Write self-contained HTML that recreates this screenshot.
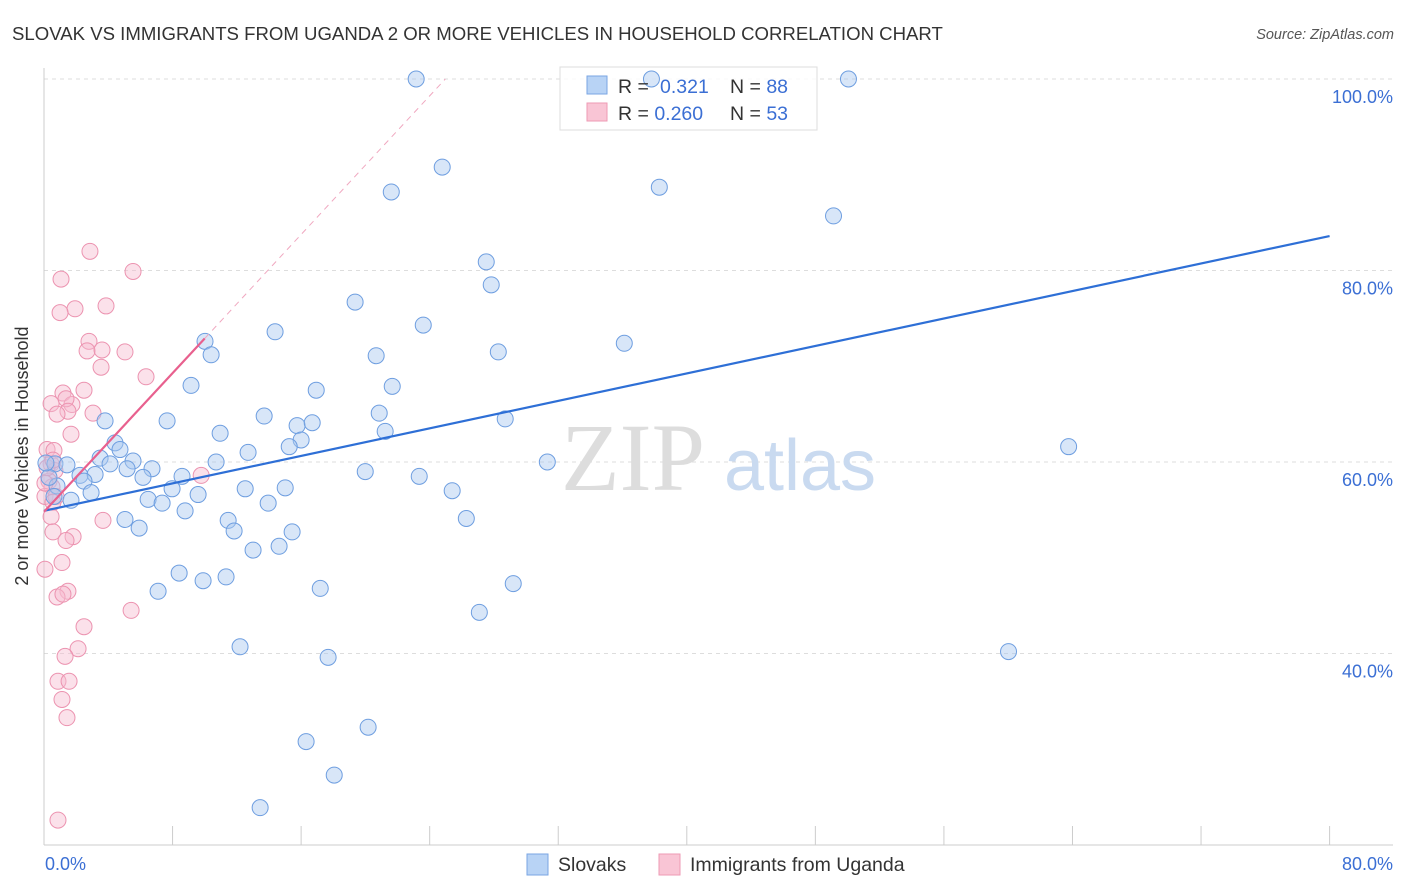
<!DOCTYPE html>
<html><head><meta charset="utf-8"><style>
body{margin:0;background:#fff;font-family:"Liberation Sans",sans-serif;}
svg{display:block}
</style></head><body>
<svg id="chart" width="1406" height="892" font-family="Liberation Sans, sans-serif">
<text x="12" y="40" font-size="18.6" fill="#333">SLOVAK VS IMMIGRANTS FROM UGANDA 2 OR MORE VEHICLES IN HOUSEHOLD CORRELATION CHART</text>
<text x="1394" y="39" font-size="14.5" fill="#555" font-style="italic" text-anchor="end">Source: ZipAtlas.com</text>
<g id="grid"></g>
<g>
<text x="633" y="490" font-size="96" font-family="Liberation Serif, serif" fill="#ddd" text-anchor="middle">ZIP</text>
<text x="800" y="490" font-size="72" fill="#c9daf0" text-anchor="middle">atlas</text>
</g>
<line x1="44" y1="68" x2="44" y2="845" stroke="#ccc"/>
<line x1="44" y1="845" x2="1393" y2="845" stroke="#ccc"/>
<g id="ticks"></g>
<text x="28" y="456" font-size="18" fill="#333" text-anchor="middle" transform="rotate(-90 28 456)">2 or more Vehicles in Household</text>
<text x="45" y="870" font-size="18" fill="#3b6fd4">0.0%</text>
<text x="1393" y="870" font-size="18" fill="#3b6fd4" text-anchor="end">80.0%</text>
<g id="ylabels"></g>
<rect x="560" y="67" width="257" height="63" fill="#fff" fill-opacity="0.8" stroke="#ddd"/>
<g id="pink"></g>
<g id="blue"></g>
<g id="lines"></g>
<g>
<rect x="587" y="76" width="20" height="18" fill="#b8d3f5" stroke="#7aa6e3"/>
<rect x="587" y="103" width="20" height="18" fill="#f9c5d5" stroke="#ee9ab4"/>
<text x="618" y="93" font-size="19.5" fill="#333">R = <tspan fill="#3b6fd4" x="660">0.321</tspan><tspan x="730" fill="#333">N = </tspan><tspan fill="#3b6fd4">88</tspan></text>
<text x="618" y="120" font-size="19.5" fill="#333">R = <tspan fill="#3b6fd4">0.260</tspan><tspan x="730" fill="#333">N = </tspan><tspan fill="#3b6fd4">53</tspan></text>
</g>
<g>
<rect x="527" y="854" width="21" height="21" fill="#b8d3f5" stroke="#7aa6e3"/>
<text x="558" y="871" font-size="19.5" fill="#333">Slovaks</text>
<rect x="659" y="854" width="21" height="21" fill="#f9c5d5" stroke="#ee9ab4"/>
<text x="690" y="871" font-size="19.5" fill="#333">Immigrants from Uganda</text>
</g>
</svg>
<script>
const blueX=[23.16,37.8,50.06,24.78,21.61,38.29,49.13,27.52,27.83,19.36,14.38,23.6,10.02,10.4,20.67,28.27,36.11,9.15,16.94,21.67,13.7,20.86,7.66,3.8,15.75,16.69,28.7,10.96,16.0,15.26,21.23,4.42,4.73,3.49,12.7,63.76,0.68,1.43,4.11,5.54,10.71,5.17,6.72,31.32,2.24,3.18,2.49,6.16,8.59,19.99,23.35,0.81,2.93,7.97,12.52,15.01,25.4,1.68,6.48,7.35,9.59,13.95,8.78,5.04,11.46,26.28,5.92,11.83,15.44,13.01,14.63,8.41,7.1,9.9,11.33,17.19,29.2,27.09,12.2,17.68,60.02,16.31,20.17,18.06,13.45,0.62,0.31,0.12];
const blueY=[100,100,100,90.8,88.2,88.7,85.7,80.9,78.5,76.7,73.6,74.3,72.6,71.2,71.1,71.5,72.4,68.0,67.5,67.9,64.8,65.1,64.3,64.3,63.8,64.1,64.5,63.0,62.3,61.6,63.2,62.0,61.3,60.4,61.0,61.6,59.8,59.7,59.8,60.1,60.0,59.3,59.3,60.0,58.6,58.7,58.0,58.4,58.5,59.0,58.5,57.5,56.8,57.2,57.2,57.3,57.0,56.0,56.1,55.7,56.6,55.7,54.9,54.0,53.9,54.1,53.1,52.8,52.7,50.8,51.2,48.4,46.5,47.6,48.0,46.8,47.3,44.3,40.7,39.6,40.2,30.8,32.3,27.3,23.9,56.4,58.4,59.9];
const pinkX=[2.86,1.06,5.54,3.86,1.93,1.0,2.8,2.68,3.61,5.04,3.55,6.35,2.49,1.18,1.74,1.37,0.44,3.05,1.49,0.81,1.68,0.19,0.62,9.78,0.44,0.68,0.31,0.5,0.06,0.75,0.56,0.44,3.67,0.56,1.81,1.37,1.12,0.06,1.49,0.81,1.18,5.42,2.49,2.12,1.31,0.87,1.56,1.12,1.43,0.87,0.19,0.56,0.06];
const pinkY=[82.0,79.1,79.9,76.3,76.0,75.6,72.6,71.6,71.7,71.5,69.9,68.9,67.5,67.2,66.0,66.6,66.1,65.1,65.3,65.0,62.9,61.3,61.2,58.6,59.8,59.1,58.0,57.4,56.4,56.4,55.8,54.3,53.9,52.7,52.2,51.8,49.5,48.8,46.5,45.9,46.2,44.5,42.8,40.5,39.7,37.1,37.1,35.2,33.3,22.6,59.4,60.2,57.8];
const yTicks=[100,80,60,40];
const yTickLabels=["100.0%","80.0%","60.0%","40.0%"];
const xTicks=[0,8,16,24,32,40,48,56,64,72,80];
const blueTrend=[54.9,83.6]; // y at x=0 and x=80
const pinkTrend=[54.8,72.9]; // y at x=0 and x=10
const NS="http://www.w3.org/2000/svg";
const xs=v=>44+v*16.07;
const ys=v=>79+(100-v)*9.575;
function mk(tag,attrs,parent){const e=document.createElementNS(NS,tag);for(const k in attrs)e.setAttribute(k,attrs[k]);parent.appendChild(e);return e;}
const grid=document.getElementById('grid'),yl=document.getElementById('ylabels'),tk=document.getElementById('ticks');
yTicks.forEach((v,i)=>{
 const l=mk('line',{x1:44,x2:1393,y1:ys(v),y2:ys(v),stroke:'#ddd','stroke-dasharray':'4,4'},grid);
 
 
 const t=mk('text',{x:1393,y:ys(v)+24,'font-size':18,fill:'#3b6fd4','text-anchor':'end'},yl);
 t.textContent=yTickLabels[i];
 
 
});
xTicks.forEach(v=>{
 const l=mk('line',{x1:xs(v),x2:xs(v),y1:826,y2:845,stroke:'#ccc'},tk);
 
 
});
const pg=document.getElementById('pink');
pinkX.forEach((x,i)=>{
 const c=mk('circle',{cx:xs(x),cy:ys(pinkY[i]),r:8,fill:'#f7bcd0','fill-opacity':0.45,stroke:'#ec93b0','stroke-width':1},pg);
 
 
});
const bg=document.getElementById('blue');
blueX.forEach((x,i)=>{
 const c=mk('circle',{cx:xs(x),cy:ys(blueY[i]),r:8,fill:'#a9c8f0','fill-opacity':0.45,stroke:'#6e9ee0','stroke-width':1},bg);
 
 
});
const lg=document.getElementById('lines');
const bl=mk('line',{x1:xs(0),y1:ys(blueTrend[0]),x2:xs(80),y2:ys(blueTrend[1]),stroke:'#2e6fd6','stroke-width':2.2},lg);


const slope=(pinkTrend[1]-pinkTrend[0])/10;
const xEnd=(100-pinkTrend[0])/slope;
const pd=mk('line',{x1:xs(10),y1:ys(pinkTrend[1]),x2:xs(xEnd),y2:ys(100),stroke:'#f0a8c0','stroke-width':1,'stroke-dasharray':'6,5'},lg);


const pl=mk('line',{x1:xs(0),y1:ys(pinkTrend[0]),x2:xs(10),y2:ys(pinkTrend[1]),stroke:'#e8608e','stroke-width':2.2},lg);


</script>
</body></html>
